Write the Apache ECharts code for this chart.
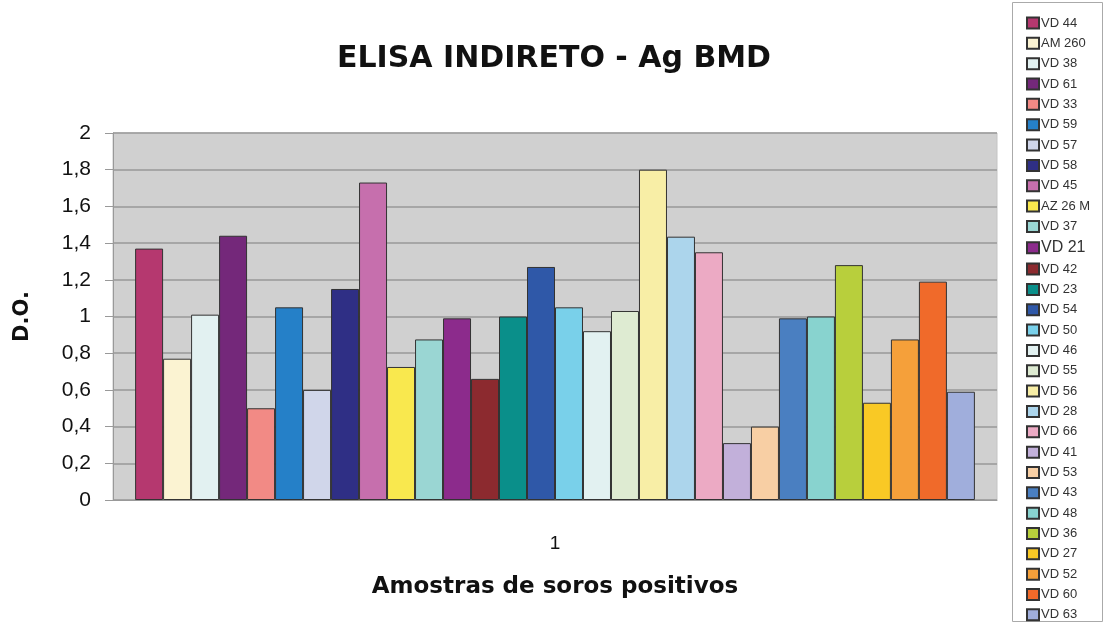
<!DOCTYPE html>
<html>
<head>
<meta charset="utf-8">
<script src="https://cdn.jsdelivr.net/npm/echarts@6/dist/echarts.min.js"></script>
<style>html,body{margin:0;padding:0;background:#fff}#c{width:1106px;height:624px}</style>
</head>
<body>
<div id="c"></div>
<script>
const categories = ['1'];
const seriesNames = ['VD 44','AM 260','VD 38','VD 61','VD 33','VD 59','VD 57','VD 58','VD 45','AZ 26 M','VD 37','VD 21','VD 42','VD 23','VD 54','VD 50','VD 46','VD 55','VD 56','VD 28','VD 66','VD 41','VD 53','VD 43','VD 48','VD 36','VD 27','VD 52','VD 60','VD 63'];
const seriesValues = [1.37,0.77,1.01,1.44,0.50,1.05,0.60,1.15,1.73,0.725,0.875,0.99,0.66,1.00,1.27,1.05,0.92,1.03,1.80,1.435,1.35,0.31,0.40,0.99,1.00,1.28,0.53,0.875,1.19,0.59];
const seriesColors = ['#b5386f','#fbf3d2','#e2f1f1','#74287a','#f28a85','#2580c8','#d0d6ea','#2f2f85','#c66fad','#f9e84e','#9ad6d3','#8c2b8c','#8c2a2f','#0a8f8a','#2f58a8','#79d0ea','#e2f1f1','#deebd2','#f8eea6','#acd5ec','#ecaac4','#c2b0da','#f8cfa4','#4a7fc1','#88d3cf','#b8cf3c','#f9c925','#f5a03a','#f06a2a','#a0aedc'];
const yTicks = [0,0.2,0.4,0.6,0.8,1,1.2,1.4,1.6,1.8,2];

const chart = echarts.init(document.getElementById('c'));
const series = seriesNames.map((n, i) => ({
  name: n,
  type: 'bar',
  data: [seriesValues[i]],
  barGap: '0%',
  barCategoryGap: '5%',
  itemStyle: { color: seriesColors[i], borderColor: '#333', borderWidth: 1 },
  emphasis: { disabled: true }
}));
chart.setOption({
  animation: false,
  title: {
    text: 'ELISA INDIRETO - Ag BMD',
    left: 549, top: 39, textAlign: 'center',
    textStyle: { fontFamily: 'DejaVu Sans', fontWeight: 'bold', fontSize: 30, color: '#111' }
  },
  graphic: [{
    type: 'rect', shape: { x: 1012.5, y: 2.5, width: 90, height: 619 },
    style: { fill: '#fff', stroke: '#aaa', lineWidth: 1 }, z: -1
  }],
  legend: {
    orient: 'vertical', left: 1026, top: 16, padding: 0,
    itemWidth: 12, itemHeight: 11, itemGap: 6.34,
    icon: 'rect',
    data: seriesNames,
    formatter: n => n === 'VD 21' ? '{big|' + n + '}' : n,
    textStyle: { fontFamily: 'Liberation Sans', fontSize: 13, color: '#333', lineHeight: 14, padding: [0, 0, 0, -3],
      rich: { big: { fontFamily: 'Liberation Sans', fontSize: 16, color: '#333', lineHeight: 14 } } },
    selectedMode: false
  },
  grid: {
    left: 113, right: 109, top: 133, bottom: 124,
    outerBoundsMode: 'none', containLabel: false,
    show: true, backgroundColor: '#d0d0d0', borderColor: '#c4c4c4', borderWidth: 1
  },
  xAxis: {
    type: 'category', data: categories,
    name: 'Amostras de soros positivos', nameLocation: 'middle', nameGap: 76,
    nameTextStyle: { fontFamily: 'DejaVu Sans', fontWeight: 'bold', fontSize: 23, color: '#111' },
    axisLine: { lineStyle: { color: '#999', width: 1 } },
    axisTick: { show: false },
    axisLabel: { fontFamily: 'Liberation Sans', fontSize: 19, color: '#111', margin: 34 }
  },
  yAxis: {
    type: 'value', min: 0, max: 2, interval: 0.2,
    name: 'D.O.', nameLocation: 'middle', nameGap: 80,
    nameTextStyle: { fontFamily: 'DejaVu Sans', fontWeight: 'bold', fontSize: 21, color: '#111' },
    axisLine: { show: true, lineStyle: { color: '#999', width: 1 } },
    axisTick: { show: true, length: 8, lineStyle: { color: '#999' } },
    axisLabel: { fontFamily: 'Liberation Sans', fontSize: 21, color: '#111', margin: 22,
      formatter: v => { const t = yTicks.find(x => Math.abs(x - v) < 1e-6); return String(t !== undefined ? t : v).replace('.', ','); } },
    splitLine: { show: true, lineStyle: { color: '#999', width: 1.5 } }
  },
  series: series
});
</script>
</body>
</html>
